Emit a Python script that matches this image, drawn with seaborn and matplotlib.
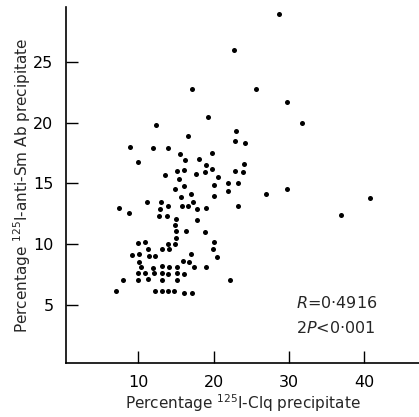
import matplotlib
matplotlib.use("Agg")
import matplotlib.pyplot as plt
import numpy as np
import pandas as pd
import seaborn as sns

# Percentage of 125I-C1q precipitated (x) vs 125I-anti-Sm Ab precipitated (y)
clq_pct = [
    28.7, 22.7, 17.1, 25.7, 29.8, 19.2, 31.8, 12.4, 23.0, 16.6,
    22.8, 24.2, 8.9, 11.9, 13.9, 15.6, 19.8, 10.0, 16.2, 18.0,
    24.0, 19.0, 19.8, 22.9, 23.9, 15.1, 16.1, 17.7, 18.8, 20.6,
    13.5, 15.4, 21.9, 23.2, 20.1, 16.1, 14.9, 21.9, 29.8, 27.0,
    17.0, 15.7, 20.1, 40.8, 11.1, 13.0, 17.3, 7.4, 8.7, 12.9,
    13.9, 15.8, 16.6, 17.8, 19.0, 23.2, 37.0, 12.7, 13.8, 15.0,
    17.8, 14.9, 15.0, 16.4, 18.9, 15.0, 10.0, 10.9, 14.0, 14.9,
    20.1, 11.3, 13.2, 14.1, 19.9, 9.2, 10.1, 11.4, 12.2, 17.0,
    20.4, 10.1, 10.4, 12.0, 13.1, 14.1, 15.1, 16.0, 16.7, 17.4,
    19.0, 9.9, 10.9, 12.1, 13.2, 14.0, 15.1, 16.1, 8.0, 10.0,
    11.3, 13.2, 15.1, 22.2, 7.0, 12.2, 13.2, 14.0, 14.7, 16.1,
    17.2,
]
anti_sm_pct = [
    29.0, 26.0, 22.8, 22.8, 21.7, 20.5, 20.0, 19.8, 19.3, 18.9,
    18.5, 18.3, 18.0, 17.9, 17.9, 17.4, 17.5, 16.8, 16.9, 17.0,
    16.6, 16.5, 16.2, 16.0, 15.9, 16.0, 16.1, 15.8, 15.9, 15.5,
    15.7, 15.4, 15.0, 15.0, 14.9, 14.8, 14.5, 14.4, 14.5, 14.1,
    14.1, 13.9, 14.0, 13.8, 13.5, 13.5, 13.5, 13.0, 12.6, 12.9,
    13.1, 13.1, 13.1, 12.9, 13.0, 13.1, 12.4, 12.3, 12.3, 12.1,
    12.0, 11.6, 11.1, 11.1, 11.0, 10.5, 10.1, 10.2, 10.0, 10.0,
    10.2, 9.6, 9.6, 9.6, 9.6, 9.1, 9.2, 9.0, 9.0, 9.2,
    8.9, 8.5, 8.1, 8.0, 8.2, 8.1, 8.1, 8.6, 8.5, 8.1,
    8.1, 7.6, 7.6, 7.6, 7.6, 7.5, 7.6, 7.5, 7.0, 7.0,
    7.1, 7.0, 7.0, 7.0, 6.1, 6.1, 6.1, 6.1, 6.1, 6.0,
    6.0,
]
x_ticks = [10, 20, 30, 40]
y_ticks = [5, 10, 15, 20, 25]
r_text = "0\u00b74916"
p_text = "0\u00b7001"

df = pd.DataFrame({"clq": clq_pct, "antism": anti_sm_pct})

sns.set_style("ticks")
plt.rcParams["font.family"] = ["DejaVu Sans"]
plt.rcParams["mathtext.fontset"] = "dejavusans"

fig = plt.figure(figsize=(4.19, 4.17), dpi=100)
ax = fig.add_axes([0.1575, 0.1295, 0.8425, 0.8535])

sns.scatterplot(data=df, x="clq", y="antism", ax=ax, color="black",
                s=13, linewidth=0, legend=False)

ax.set_xlim(0.39, 47.3)
ax.set_ylim(0.19, 29.54)
ax.set_xticks(x_ticks)
ax.set_yticks(y_ticks)
ax.tick_params(direction="in", length=8.5, width=1.0, labelsize=11.5,
               color="black", labelcolor="black", pad=9)
for side in ("top", "right"):
    ax.spines[side].set_visible(False)
for side in ("left", "bottom"):
    ax.spines[side].set_linewidth(1.2)
    ax.spines[side].set_color("black")

ax.set_xlabel(r"Percentage $^{125}$I-Clq precipitate", fontsize=11, labelpad=1)
ax.set_ylabel(r"Percentage $^{125}$I-anti-Sm Ab precipitate", fontsize=11, labelpad=0)

ax.text(31.0, 5.1, r"$R$=" + r_text, fontsize=11.5, ha="left", va="center")
ax.text(31.0, 3.1, r"2$P$<" + p_text, fontsize=11.5, ha="left", va="center")

fig.savefig("out.png", dpi=100, facecolor="white")
